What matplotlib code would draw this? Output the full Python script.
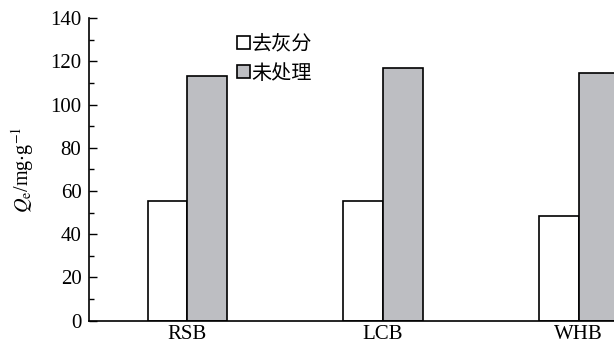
import matplotlib
matplotlib.use("Agg")
import numpy as np
import matplotlib.pyplot as plt
from matplotlib.ticker import MultipleLocator

categories = ["RSB", "LCB", "WHB"]
deashed = [55.4, 55.4, 48.5]      # 去灰分
untreated = [113.3, 117.0, 114.8]  # 未处理

plt.rcParams["font.family"] = ["Liberation Serif", "DejaVu Serif"]
plt.rcParams["mathtext.fontset"] = "stix"

fig = plt.figure(figsize=(6.14, 3.44), dpi=100)
ax = fig.add_axes([0.145, 0.068, 0.855, 0.879])

x = np.arange(len(categories))
w = 0.202
ax.bar(x - w / 2, deashed, w, color="white", edgecolor="black", linewidth=1.2, label="去灰分")
ax.bar(x + w / 2, untreated, w, color="#bdbec2", edgecolor="black", linewidth=1.2, label="未处理")

ax.set_xlim(-0.502, 2.18)
ax.set_ylim(0, 140)
ax.set_xticks(x)
ax.set_xticklabels(categories)
ax.yaxis.set_major_locator(MultipleLocator(20))
ax.yaxis.set_minor_locator(MultipleLocator(10))
ax.tick_params(axis="y", which="major", direction="in", length=6, width=1, labelsize=15, pad=5.5)
ax.tick_params(axis="y", which="minor", direction="in", length=3.5, width=1)
ax.tick_params(axis="x", length=0, labelsize=15, pad=3.5)

for s in ["top", "right"]:
    ax.spines[s].set_visible(False)
for s in ["left", "bottom"]:
    ax.spines[s].set_linewidth(1.2)

ax.set_ylabel(r"$Q_{\mathrm{e}}$/mg$\cdot$g$^{-1}$", fontsize=14.5, labelpad=10)

leg = ax.legend(loc="upper left", bbox_to_anchor=(0.267, 0.975), frameon=False,
                prop={"family": "Noto Sans CJK SC", "size": 14.5},
                handlelength=0.62, handleheight=0.62, handletextpad=0.1,
                labelspacing=0.4, borderaxespad=0)

fig.savefig("out.png", dpi=100)
